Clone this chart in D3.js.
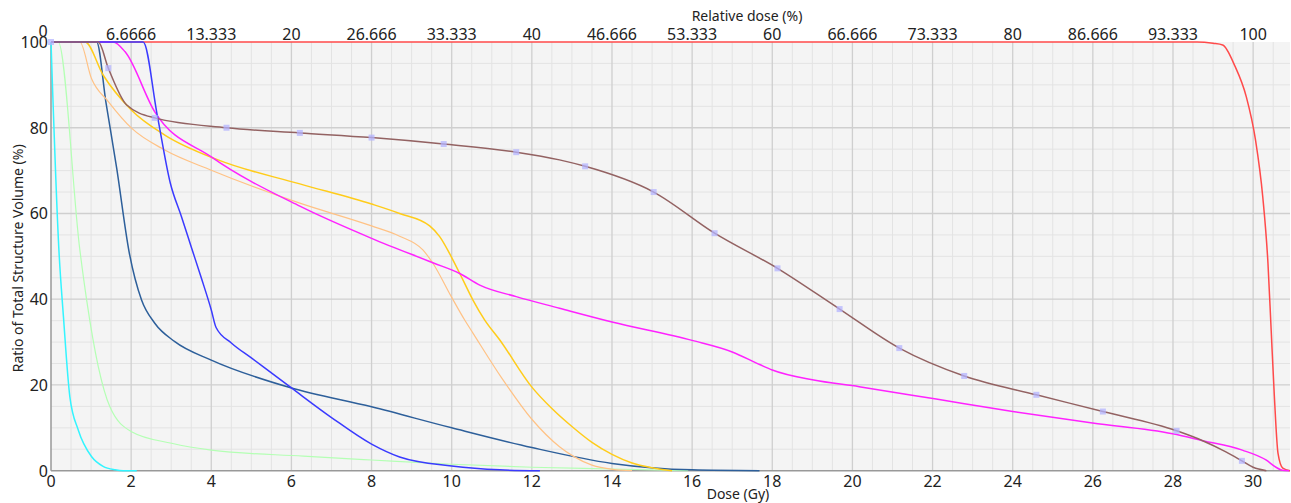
<!DOCTYPE html>
<html>
<head>
<meta charset="utf-8">
<script src="https://cdn.jsdelivr.net/npm/d3@7"></script>
<style>
  body { margin: 0; background: #fff; }
  text { font-family: "Noto Sans", "Open Sans", sans-serif; fill: #222; }
</style>
</head>
<body>
<div id="chart"></div>
<script>
// Dose ticks (Gy) and the relative dose labels shown on top
const doseTicks = [0, 2, 4, 6, 8, 10, 12, 14, 16, 18, 20, 22, 24, 26, 28, 30];
const relLabels = ["0", "6.6666", "13.333", "20", "26.666", "33.333", "40", "46.666",
                   "53.333", "60", "66.666", "73.333", "80", "86.666", "93.333", "100"];
const volumeTicks = [0, 20, 40, 60, 80, 100];

// DVH curves: [dose Gy, volume %]
const redCurve = [[0,100],[28.6,100],[29.0,99.7],[29.24,99.3],[29.54,94.5],[29.83,87.2],[30.06,77.1],
  [30.24,63.9],[30.37,48.4],[30.45,32.8],[30.53,17.3],[30.62,4.1],[30.74,0.6],[30.92,0]];
const cyanCurve = [[0,100],[0.2,51],[0.31,36],[0.47,17.3],[0.68,9.5],[1.01,3.3],[1.3,1],[1.6,0.2],[1.8,0],[2.14,0]];
const greenCurve = [[0,100],[0.18,100],[0.72,51.5],[0.89,39.8],[1.18,24.3],[1.47,14.9],[2.01,9.1],[3.01,6.4],
  [4.0,4.8],[6.3,3.4],[8,2.5],[10,1.5],[12,0.8],[14,0.4],[15.9,0]];
const steelCurve = [[0,100],[1.14,100],[1.37,86],[1.64,70.5],[1.95,51],[2.26,39.8],[2.59,34.4],[3.09,30.1],
  [4.0,25.8],[5.96,19.4],[8.0,14.9],[10.0,10.0],[12.0,5.4],[14.0,1.7],[16.0,0.2],[17.68,0]];
const yellowCurve = [[0,100],[0.85,100],[1.3,92.3],[2.01,84.1],[2.84,78.3],[4.17,72.5],[6.21,66.9],[8.0,62.2],
  [8.7,60.0],[9.45,57.1],[9.7,54.6],[9.99,49.9],[10.28,44.5],[10.53,39.8],[10.82,35.2],[11.2,30.5],
  [12.0,19.5],[12.5,14.5],[13.0,10.3],[13.5,6.6],[14.0,3.8],[14.5,1.8],[15.0,0.7],[15.5,0]];
const orangeCurve = [[0,100],[0.72,100],[1.01,91.5],[1.43,86.1],[2.01,79.9],[2.84,74.8],[4.0,70.1],[6.21,62.4],
  [8.0,57.1],[8.7,54.7],[9.28,51.5],[9.53,48.4],[9.99,40.6],[10.32,35.2],[10.53,32.1],[11.25,21.6],
  [12.0,12.0],[12.69,5.6],[13.03,3.4],[13.5,1.3],[14.02,0.3],[14.5,0]];
const magentaCurve = [[0,100],[1.55,100],[1.85,97.7],[2.59,83.7],[4.0,73.2],[6.21,61.7],[8.0,54.2],[9.53,48.5],
  [10.2,46.0],[10.7,43.3],[11.61,40.6],[12.69,37.9],[14,34.7],[16,30.4],[17,27.7],[17.7,24.7],[18,23.5],
  [19,21.2],[20.17,19.6],[22.09,16.7],[24.0,13.8],[25.99,11.1],[27.99,8.6],[28.74,7.0],[29.73,4.8],
  [30.32,2.5],[30.57,0.8],[30.73,0.1],[30.9,0]];
const blueCurve = [[0,100],[2.3,100],[2.65,83],[2.98,67],[3.25,59.4],[3.5,52.2],[3.75,45],[4.0,37.5],
  [4.12,33.4],[4.5,29.8],[5.0,26.3],[6.0,19.3],[7.0,12.4],[8.0,6.2],[8.7,3.2],[10.0,1.1],[11.2,0.2],[12.2,0]];
const brownCurve = [[0,100],[1.18,100],[1.43,93.9],[1.89,85.3],[2.59,82.3],[4.38,80.0],[6.21,78.8],[8.0,77.7],
  [9.8,76.2],[11.61,74.3],[12.69,72.5],[13.33,71.0],[15.04,65.0],[16.56,55.4],[18.13,47.2],[19.68,37.7],
  [21.17,28.6],[22.79,22.1],[24.59,17.7],[26.25,13.8],[28.09,9.3],[28.74,7.0],[29.32,4.4],[29.72,2.3],
  [30.0,0.8],[30.33,0]];
const brownMarkers = [[0,100],[1.43,93.9],[2.59,82.3],[4.38,80.0],[6.21,78.8],[8.0,77.7],[9.8,76.2],[11.61,74.3],
  [13.33,71.0],[15.04,65.0],[16.56,55.4],[18.13,47.2],[19.68,37.7],[21.17,28.6],[22.79,22.1],[24.59,17.7],
  [26.25,13.8],[28.09,9.3],[29.72,2.3]];

// drawing order matters: later ones sit on top of the shared 100% line
const series = [
  { data: redCurve, color: '#ff4a4a', w: 1.5 },
  { data: cyanCurve, color: '#33f4ff', w: 1.5 },
  { data: greenCurve, color: '#b4ffb4', w: 1.2 },
  { data: steelCurve, color: '#2d5f9a', w: 1.5 },
  { data: yellowCurve, color: '#ffcc1a', w: 1.5 },
  { data: orangeCurve, color: '#ffc285', w: 1.2 },
  { data: magentaCurve, color: '#ff22ff', w: 1.5 },
  { data: blueCurve, color: '#3a3aff', w: 1.5 },
  { data: brownCurve, color: '#936262', w: 1.5 }
];

const width = 1291, height = 503;
const margin = { top: 42, right: 1, left: 51, bottom: 32 };

const svg = d3.select('#chart').append('svg')
    .attr('width', width)
    .attr('height', height);

const x = d3.scaleLinear().domain([0, 30.92]).range([margin.left, width - margin.right]);
const y = d3.scaleLinear().domain([0, 100]).range([height - margin.bottom - 0.3, margin.top]);

// plot background
svg.append('rect')
    .attr('x', x(0)).attr('y', y(100))
    .attr('width', x(30.92) - x(0)).attr('height', y(0) - y(100))
    .attr('fill', '#f4f4f4');

// minor grid
const grid = svg.append('g');
grid.selectAll('.vmin')
    .data(d3.range(0.5, 31, 0.5).filter(d => d % 2 !== 0))
    .enter().append('line')
    .attr('x1', d => x(d)).attr('x2', d => x(d))
    .attr('y1', y(0)).attr('y2', y(100))
    .attr('stroke', '#e3e3e3').attr('stroke-width', 1);
grid.selectAll('.hmin')
    .data(d3.range(5, 100, 5).filter(d => d % 20 !== 0))
    .enter().append('line')
    .attr('x1', x(0)).attr('x2', x(30.92))
    .attr('y1', d => y(d)).attr('y2', d => y(d))
    .attr('stroke', '#e3e3e3').attr('stroke-width', 1);
// major grid
grid.selectAll('.vmaj')
    .data(doseTicks.slice(1))
    .enter().append('line')
    .attr('x1', d => x(d)).attr('x2', d => x(d))
    .attr('y1', y(0)).attr('y2', y(100))
    .attr('stroke', '#cfcfcf').attr('stroke-width', 1.3);
grid.selectAll('.hmaj')
    .data(volumeTicks.slice(1, -1))
    .enter().append('line')
    .attr('x1', x(0)).attr('x2', x(30.92))
    .attr('y1', d => y(d)).attr('y2', d => y(d))
    .attr('stroke', '#cfcfcf').attr('stroke-width', 1.3);

// axis lines
svg.append('line')
    .attr('x1', x(0)).attr('x2', x(0)).attr('y1', y(0)).attr('y2', y(100))
    .attr('stroke', '#999').attr('stroke-width', 1.5);
svg.append('line')
    .attr('x1', x(0)).attr('x2', x(30.92)).attr('y1', y(0)).attr('y2', y(0))
    .attr('stroke', '#999').attr('stroke-width', 1.5);

// tick labels
svg.append('g').selectAll('text')
    .data(doseTicks)
    .enter().append('text')
    .attr('x', d => x(d)).attr('y', y(0) + 16)
    .attr('text-anchor', 'middle')
    .attr('font-size', '16px')
    .text(d => d);

svg.append('g').selectAll('text')
    .data(volumeTicks)
    .enter().append('text')
    .attr('x', x(0) - 3).attr('y', d => y(d) + 6)
    .attr('text-anchor', 'end')
    .attr('font-size', '16px')
    .text(d => d);

svg.append('g').selectAll('text')
    .data(relLabels)
    .enter().append('text')
    .attr('x', (d, i) => x(doseTicks[i]) - (i === 0 ? 8 : 0))
    .attr('y', (d, i) => i === 0 ? 37 : 40)
    .attr('text-anchor', 'middle')
    .attr('font-size', '16px')
    .text(d => d);

// axis titles
svg.append('text')
    .attr('x', 747).attr('y', 21)
    .attr('text-anchor', 'middle').attr('font-size', '14px')
    .text('Relative dose (%)');
svg.append('text')
    .attr('x', 738).attr('y', 499)
    .attr('text-anchor', 'middle').attr('font-size', '14px')
    .text('Dose (Gy)');
svg.append('text')
    .attr('transform', `translate(23,${(y(0) + y(100)) / 2 + 2}) rotate(-90)`)
    .attr('text-anchor', 'middle').attr('font-size', '14px')
    .text('Ratio of Total Structure Volume (%)');

// curves
const line = d3.line()
    .x(d => x(d[0]))
    .y(d => y(d[1]))
    .curve(d3.curveMonotoneX);

svg.append('g').selectAll('path')
    .data(series)
    .enter().append('path')
    .attr('d', d => line(d.data))
    .attr('fill', 'none')
    .attr('stroke', d => d.color)
    .attr('stroke-width', d => d.w);

// point markers on the brown curve
svg.append('g').selectAll('rect')
    .data(brownMarkers)
    .enter().append('rect')
    .attr('x', d => x(d[0]) - 3).attr('y', d => y(d[1]) - 3)
    .attr('width', 6).attr('height', 6)
    .attr('fill', '#b4b4ff').attr('opacity', 0.75);
</script>
</body>
</html>
